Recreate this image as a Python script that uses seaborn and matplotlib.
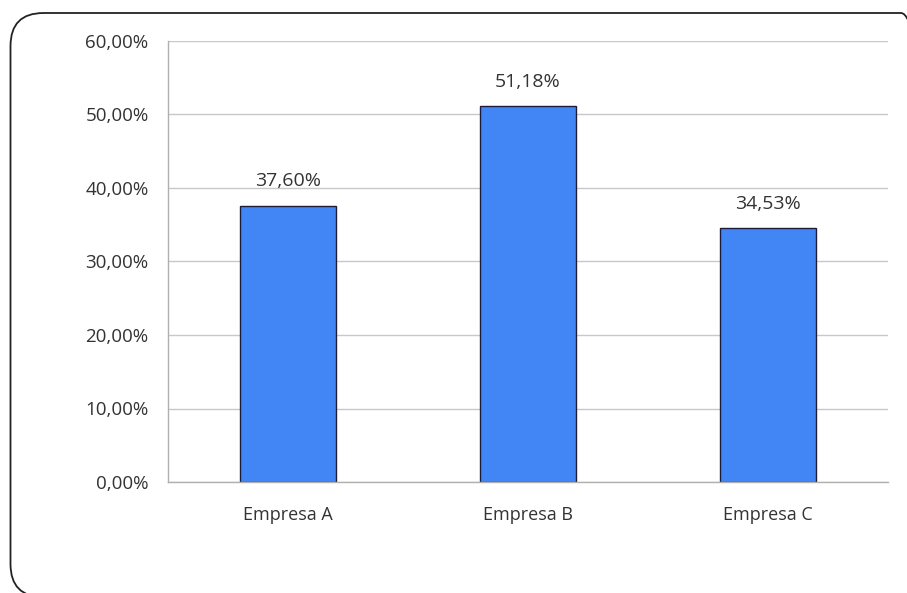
import matplotlib
matplotlib.use("Agg")
import matplotlib.pyplot as plt
import seaborn as sns
import pandas as pd
from matplotlib.patches import FancyBboxPatch
from matplotlib.ticker import FuncFormatter

categories = ["Empresa A", "Empresa B", "Empresa C"]
values = [37.60, 51.18, 34.53]
yticks = [0, 10, 20, 30, 40, 50, 60]

sns.set_theme(style="white")
plt.rcParams['font.family'] = ['Open Sans', 'DejaVu Sans']

W, H = 907, 593
fig = plt.figure(figsize=(W/100, H/100), dpi=100)
ax = fig.add_axes([168/W, 1-482/H, (888-168)/W, (482-41)/H])

df = pd.DataFrame({"cat": categories, "val": values})
sns.barplot(data=df, x="cat", y="val", ax=ax, color="#4285F4", width=0.4,
            edgecolor="#1c1c3a", linewidth=1.0, saturation=1)

txt = "#333333"
ax.set_xlim(-0.5, 2.5)
ax.set_ylim(0, 60)
ax.set_yticks(yticks)
ax.yaxis.set_major_formatter(FuncFormatter(lambda v, p: f"{v:.2f}%".replace(".", ",")))
ax.grid(axis="y", color="#c8c8c8", linewidth=1)
ax.set_axisbelow(True)
for s in ["top", "right"]:
    ax.spines[s].set_visible(False)
for s in ["left", "bottom"]:
    ax.spines[s].set_color("#b0b0b0")
    ax.spines[s].set_linewidth(1)
ax.tick_params(axis="y", length=0, pad=14, labelsize=13.5, labelcolor=txt)
ax.tick_params(axis="x", length=0, pad=17, labelsize=13, labelcolor=txt)
ax.set_xlabel("")
ax.set_ylabel("")

for i, v in enumerate(values):
    ax.annotate(f"{v:.2f}%".replace(".", ","), (i, v), xytext=(0, 11),
                textcoords="offset points", ha="center", va="bottom",
                fontsize=14, color=txt)

# rounded chart border (pixel coordinates overlay, y measured from bottom)
bax = fig.add_axes([0, 0, 1, 1], facecolor="none")
bax.set_xlim(0, W)
bax.set_ylim(0, H)
bax.axis("off")
left, right, top, bottom = 10.5, 934, 13, 597
border = FancyBboxPatch((left, H - bottom), right - left, bottom - top,
                        boxstyle="round,pad=0,rounding_size=33",
                        facecolor="none", edgecolor="#222222", linewidth=1.3,
                        clip_on=False)
bax.add_patch(border)

fig.savefig("out.png", dpi=100)
